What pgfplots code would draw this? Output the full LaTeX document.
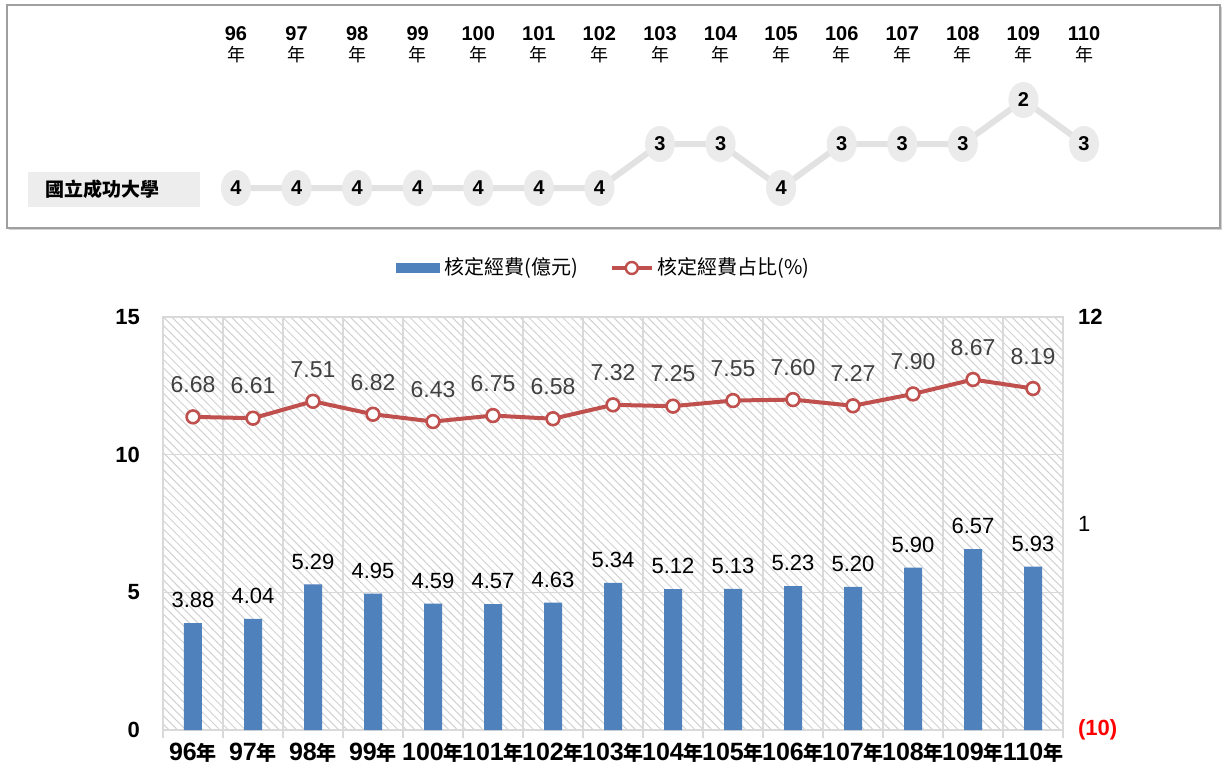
\documentclass[border=0pt]{standalone}
\usepackage{fontspec}
\setmainfont{Liberation Sans}
\newfontfamily\cjk{Noto Sans CJK TC}
\usepackage{pgfplots}
\pgfplotsset{compat=1.18}
\usetikzlibrary{patterns.meta,shapes.geometric,shadows}
\definecolor{barblue}{HTML}{4F81BD}
\definecolor{linered}{HTML}{C0504D}
\definecolor{gridgray}{HTML}{D9D9D9}
\definecolor{hatch}{HTML}{D2D2D2}
\definecolor{rankgray}{HTML}{EBEBEB}
\definecolor{rankline}{HTML}{E2E2E2}
\definecolor{rankbox}{HTML}{EDEDED}
\definecolor{labgray}{HTML}{404040}
\pgfplotsset{
  redline legend/.style={legend image code/.code={%
    \draw[linered, line width=2pt] (0pt,0pt) -- (20pt,0pt);
    \draw[linered, line width=1.2pt, fill=white] (10pt,0pt) circle (3pt);}},
  bluebar legend/.style={legend image code/.code={%
    \fill[barblue] (0pt,-2.5pt) rectangle (22pt,2.5pt);}}
}
\newcommand{\yb}[1]{#1{\cjk\fontsize{10}{12}\selectfont 年}}
\newcommand{\yt}[1]{#1\\[-0.5pt]{\cjk\mdseries\fontsize{9}{10}\selectfont 年}}
\begin{document}
\begin{tikzpicture}
\useasboundingbox (0,0) rectangle (611.5pt,386.5pt);
\fill[white] (0,0) rectangle (611.5pt,386.5pt);
% top panel frame
\draw[draw=gray!75, line width=1pt, fill=white, drop shadow={shadow xshift=1pt, shadow yshift=-1pt, opacity=0.35}] (3.5pt,272.5pt) rectangle (610pt,384pt);
\fill[rankbox] (14pt,283pt) rectangle (100pt,300.5pt);
\node[anchor=west, font=\cjk\bfseries\fontsize{9.5}{11}\selectfont] at (19pt,291.75pt) {國立成功大學};
% top rank axis
\begin{axis}[at={(118pt,292.5pt)}, anchor=south west, scale only axis,
  width=424pt, height=44pt, xmin=96, xmax=110, ymin=2, ymax=4, clip=false,
  axis line style={draw=none}, major tick length=0, ytick=\empty,
  xtick={96,...,110},
  xticklabels={\yt{96},\yt{97},\yt{98},\yt{99},\yt{100},\yt{101},\yt{102},\yt{103},\yt{104},\yt{105},\yt{106},\yt{107},\yt{108},\yt{109},\yt{110}},
  xticklabel pos=upper,
  xticklabel style={align=center, anchor=south, yshift=15pt, font=\bfseries\fontsize{10}{11}\selectfont}]
\addplot[rankline, line width=3pt, nodes near coords, point meta=explicit symbolic,
  every node near coord/.append style={ellipse, fill=rankgray, inner sep=0pt, minimum width=15pt, minimum height=18pt, anchor=center, text=black, font=\bfseries\fontsize{10}{12}\selectfont}]
  coordinates {(96,2)[4] (97,2)[4] (98,2)[4] (99,2)[4] (100,2)[4] (101,2)[4] (102,2)[4] (103,3)[3] (104,3)[3] (105,2)[4] (106,3)[3] (107,3)[3] (108,3)[3] (109,4)[2] (110,3)[3]};
\end{axis}
% bottom bar axis
\begin{axis}[at={(81.5pt,21.5pt)}, anchor=south west, scale only axis,
  width=450pt, height=206.5pt, xmin=-0.5, xmax=14.5, ymin=0, ymax=15,
  ytick={0,5,10,15}, xtick={0,...,14},
  xticklabels={\yb{96},\yb{97},\yb{98},\yb{99},\yb{100},\yb{101},\yb{102},\yb{103},\yb{104},\yb{105},\yb{106},\yb{107},\yb{108},\yb{109},\yb{110}},
  minor xtick={-0.5,0.5,...,14.5}, xminorgrids, ymajorgrids,
  grid style={gridgray, line width=0.8pt},
  minor grid style={gridgray, line width=0.8pt},
  major tick length=0, minor tick length=4pt, tick align=outside,
  xtick pos=bottom, ytick pos=left,
  tick style={gridgray, line width=0.8pt},
  axis line style={gridgray, line width=0.8pt},
  axis background/.style={pattern={Lines[angle=-45,distance=3pt,line width=0.5pt]}, pattern color=hatch},
  /pgf/number format/assume math mode=true,
  yticklabel style={font=\bfseries\fontsize{11}{13}\selectfont, xshift=-8pt},
  xticklabel style={font=\bfseries\fontsize{12.5}{14}\selectfont, yshift=-3pt},
  legend style={at={(0.5,1)}, anchor=center, xshift=-4pt, yshift=24.5pt, draw=none, fill=none, legend columns=2, font=\cjk\fontsize{10}{12}\selectfont, /tikz/every even column/.append style={column sep=14pt}},
  clip=false]
\addplot[ybar, bar width=9pt, fill=barblue, draw=none, bluebar legend,
  nodes near coords={\pgfmathprintnumber[fixed,fixed zerofill,precision=2,assume math mode=true]{\pgfplotspointmeta}},
  every node near coord/.append style={text=black, font=\fontsize{11}{13}\selectfont, yshift=4pt}]
  coordinates {(0,3.88) (1,4.04) (2,5.29) (3,4.95) (4,4.59) (5,4.57) (6,4.63) (7,5.34) (8,5.12) (9,5.13) (10,5.23) (11,5.20) (12,5.90) (13,6.57) (14,5.93)};
\addlegendentry{核定經費(億元)}
\addlegendimage{redline legend}
\addlegendentry{核定經費占比(\%)}
\end{axis}
% bottom line axis (right scale)
\begin{axis}[at={(81.5pt,21.5pt)}, anchor=south west, scale only axis,
  width=450pt, height=206.5pt, xmin=-0.5, xmax=14.5, ymin=-10, ymax=12,
  axis x line=none, axis y line*=right, axis line style={draw=none},
  ytick={-10,1,12}, yticklabels={{\color{red}(10)},{\mdseries 1},12},
  major tick length=0,
  /pgf/number format/assume math mode=true,
  yticklabel style={font=\bfseries\fontsize{11}{13}\selectfont, anchor=west, xshift=4pt},
  clip=false]
\addplot[linered, line width=2pt, mark=*, mark size=3.2pt, mark options={fill=white, draw=linered, line width=1.3pt},
  nodes near coords={\pgfmathprintnumber[fixed,fixed zerofill,precision=2,assume math mode=true]{\pgfplotspointmeta}},
  every node near coord/.append style={text=labgray, font=\fontsize{11.5}{13}\selectfont, yshift=8pt}]
  coordinates {(0,6.68) (1,6.61) (2,7.51) (3,6.82) (4,6.43) (5,6.75) (6,6.58) (7,7.32) (8,7.25) (9,7.55) (10,7.60) (11,7.27) (12,7.90) (13,8.67) (14,8.19)};
\end{axis}
\end{tikzpicture}
\end{document}
